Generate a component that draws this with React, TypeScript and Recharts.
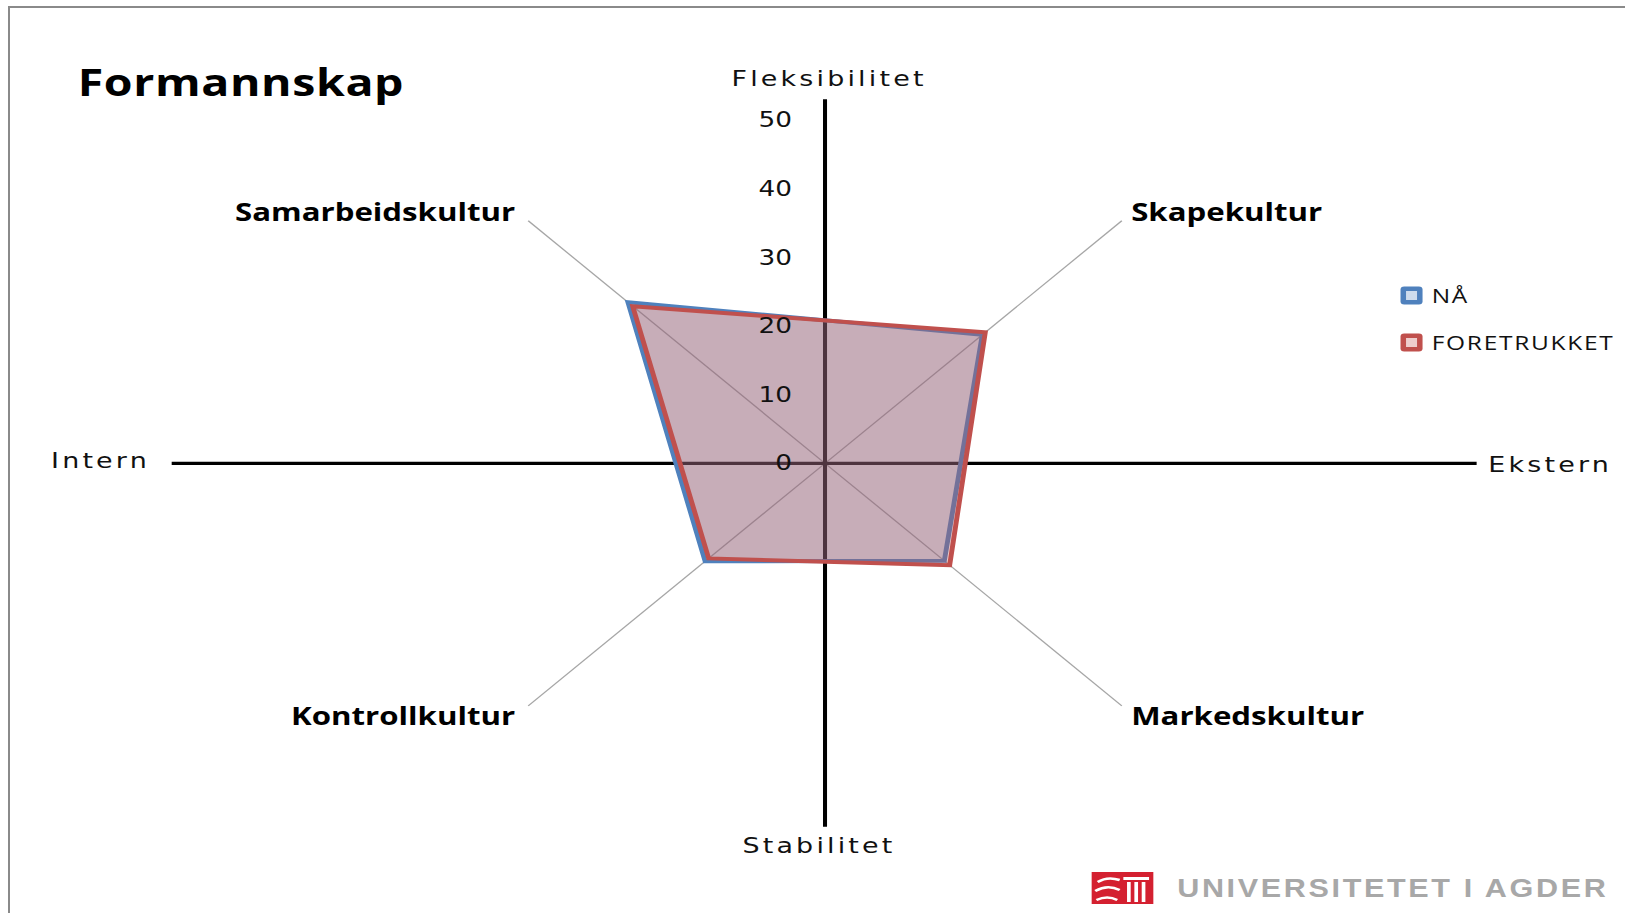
import { RadarChart, Radar, PolarGrid, PolarAngleAxis, PolarRadiusAxis, Legend } from 'recharts';

// the source picture is a slide stretched sideways, so the chart is drawn narrow and scaled on x
const STRETCH = 1.2237;
const W = 1625;
const H = 913;
const INNER_W = W / STRETCH;
const CX = 674.2;
const CY = 463.3;
const R = 343;

const categories = ['Samarbeidskultur', 'Skapekultur', 'Markedskultur', 'Kontrollkultur'];
const naValues = [33.2, 26.5, 20.1, 20.2];
const foretrukketValues = [32.4, 27.0, 21.0, 19.6];
const radiusTicks = [0, 10, 20, 30, 40, 50];
const spokeAngles = [0, 45, 90, 135, 180, 225, 270, 315];
const seriesNames = ['NÅ', 'FORETRUKKET'];

const data = categories.map((name, i) => ({
  name,
  na: naValues[i],
  foretrukket: foretrukketValues[i],
}));

const CAT_FONT = '"Open Sans", "Noto Sans", sans-serif';
const AXIS_FONT = '"DejaVu Sans", Verdana, sans-serif';

function AngleTick({ x, y, payload, textAnchor }: any) {
  const upper = y < CY;
  const dx = textAnchor === 'end' ? -5 : 2;
  return (
    <text x={x + dx} y={y + (upper ? 6 : 14)} textAnchor={textAnchor}
      fontFamily={CAT_FONT} fontWeight={700} fontSize={25.5} fill="#000">
      {payload.value}
    </text>
  );
}

function RadiusTick({ x, y, payload }: any) {
  return (
    <text x={x - 27} y={y} textAnchor="end" dominantBaseline="central"
      fontFamily={AXIS_FONT} fontSize={21.5} fill="#111">
      {payload.value}
    </text>
  );
}

function LegendBox({ payload }: any) {
  const items = [...(payload || [])].sort(
    (a: any, b: any) => seriesNames.indexOf(a.value) - seriesNames.indexOf(b.value));
  return (
    <div>
      {items.map((p: any) => (
        <div key={p.value} style={{ display: 'flex', alignItems: 'center', height: 47 }}>
          <svg width={19} height={19} style={{ display: 'block' }}>
            <rect x={0.5} y={0.5} width={18} height={18} rx={3} fill={p.color} />
            <rect x={5} y={5} width={9} height={9} fill="#fff" opacity={0.72} />
          </svg>
          <span style={{ marginLeft: 7, fontFamily: CAT_FONT, fontSize: 20, letterSpacing: 1.4, color: '#111' }}>
            {p.value}
          </span>
        </div>
      ))}
    </div>
  );
}

export default function App() {
  return (
    <div style={{ position: 'absolute', left: 0, top: 0, width: W, height: H, overflow: 'hidden', background: '#fff' }}>
      <div style={{ position: 'absolute', left: 8, top: 6, width: W, height: H, borderTop: '2px solid #8a8a8a', borderLeft: '2px solid #8a8a8a' }} />
      <div style={{ position: 'absolute', left: 0, top: 0, width: INNER_W, height: H, transform: `scaleX(${STRETCH})`, transformOrigin: '0 0' }}>
        <RadarChart width={INNER_W} height={H} data={data} cx={CX} cy={CY} outerRadius={R}
          startAngle={135} endAngle={-225} margin={{ top: 0, right: 0, bottom: 0, left: 0 }}>
          <g>
            <line x1={CX} y1={99.3} x2={CX} y2={826.7} stroke="#000" strokeWidth={3.3} />
            <line x1={140.3} y1={CY} x2={1206.7} y2={CY} stroke="#000" strokeWidth={3.3} />
          </g>
          <PolarGrid polarAngles={spokeAngles} polarRadius={[0]} stroke="#a6a6a6" strokeWidth={1.2} />
          <PolarAngleAxis dataKey="name" tick={<AngleTick />} tickLine={false} axisLine={false} />
          <PolarRadiusAxis angle={90} domain={[0, 50]} ticks={radiusTicks} tickCount={6}
            axisLine={false} tickLine={false} tick={<RadiusTick />} />
          <Radar name="NÅ" dataKey="na" stroke="#4f81bd" strokeWidth={4} fill="#4f81bd" fillOpacity={0.3}
            dot={false} isAnimationActive={false} />
          <Radar name="FORETRUKKET" dataKey="foretrukket" stroke="#c0504d" strokeWidth={4} fill="#c0504d" fillOpacity={0.32}
            dot={false} isAnimationActive={false} />
          <Legend layout="vertical" align="right" verticalAlign="top" content={<LegendBox />}
            wrapperStyle={{ position: 'absolute', left: 1144, top: 272, width: 200 }} />

          <text x={63.5} y={96} fontFamily={CAT_FONT} fontWeight={700} fontSize={38} letterSpacing={0.5} fill="#000">Formannskap</text>
          <text x={677.5} y={86} textAnchor="middle" fontFamily={AXIS_FONT} fontSize={22} letterSpacing={2.6} fill="#111">Fleksibilitet</text>
          <text x={669.3} y={852.7} textAnchor="middle" fontFamily={AXIS_FONT} fontSize={22} letterSpacing={2.6} fill="#111">Stabilitet</text>
          <text x={122.5} y={468.3} textAnchor="end" fontFamily={AXIS_FONT} fontSize={22} letterSpacing={2.6} fill="#111">Intern</text>
          <text x={1216.2} y={471.7} fontFamily={AXIS_FONT} fontSize={22} letterSpacing={2.6} fill="#111">Ekstern</text>

          <g>
            <rect x={892.1} y={872} width={50.4} height={32} fill="#d42030" />
            <path d="M897 882 q8 -6 18 -2" stroke="#fff" strokeWidth={2.5} fill="none" />
            <path d="M895 891 q10 -7 20 -1" stroke="#fff" strokeWidth={2.5} fill="none" />
            <path d="M896 900 q9 -5 17 0" stroke="#fff" strokeWidth={2.5} fill="none" />
            <rect x={918} y={877} width={21} height={3} fill="#fff" />
            <rect x={921} y={882} width={3} height={20} fill="#fff" />
            <rect x={927} y={882} width={3} height={20} fill="#fff" />
            <rect x={933} y={882} width={3} height={20} fill="#fff" />
          </g>
          <text x={962} y={897} fontFamily='"Liberation Sans", Arial, sans-serif' fontWeight={700} fontSize={25} letterSpacing={2.15} fill="#a8a8a8">
            UNIVERSITETET I AGDER
          </text>
        </RadarChart>
      </div>
    </div>
  );
}
